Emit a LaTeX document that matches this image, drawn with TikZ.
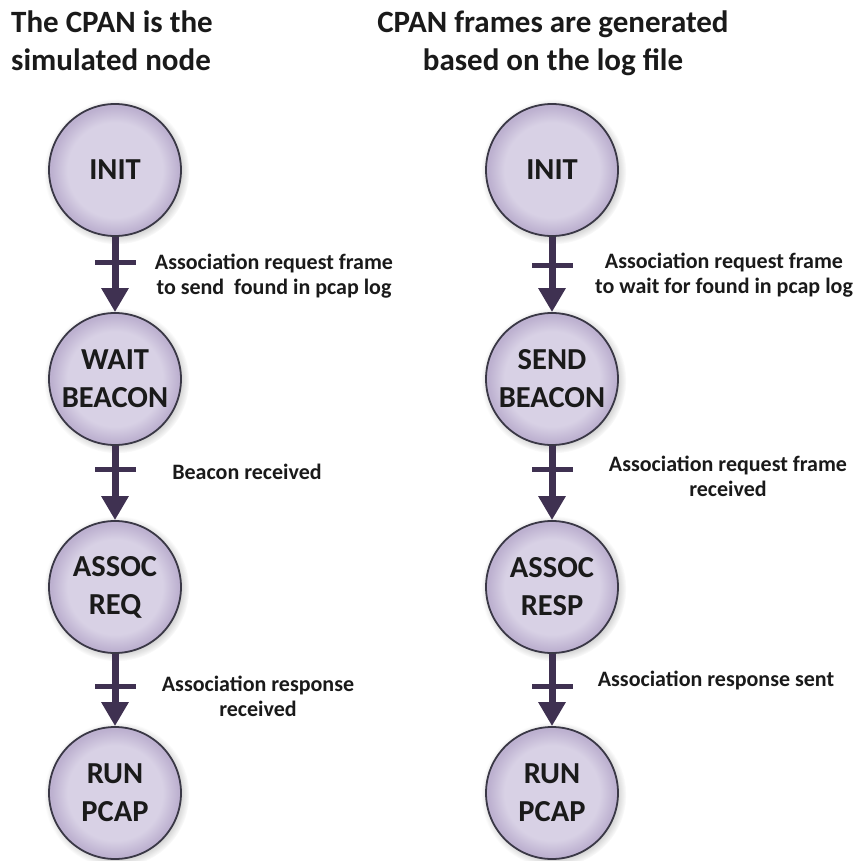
\documentclass[tikz,border=0pt]{standalone}
\usepackage{fontspec}
\setmainfont{Carlito}
\usetikzlibrary{shadows,arrows.meta}

\definecolor{stateFill}{HTML}{D8D1E5}
\definecolor{stateRim}{HTML}{BDB1D0}
\definecolor{stateLine}{HTML}{3A3846}
\definecolor{flow}{HTML}{3F3151}
\definecolor{ink}{HTML}{1A1A1A}

% flat lavender face with a slightly darker bevelled rim
\pgfdeclareradialshading{stateball}{\pgfpoint{0bp}{0bp}}{%
  color(0bp)=(stateFill); color(18bp)=(stateFill);
  color(24bp)=(stateRim); color(25bp)=(stateRim); color(50bp)=(stateRim)}

\begin{document}
\begin{tikzpicture}[x=1pt,y=-1pt,
  state/.style={circle, minimum size=132pt, inner sep=0pt,
    draw=stateLine, line width=1.8pt, shading=stateball,
    circular drop shadow={shadow xshift=1.5pt, shadow yshift=-1.5pt,
      opacity=0.3, fill=black!70},
    font=\fontsize{30.5}{38}\selectfont\bfseries, text=ink, align=center},
  flowline/.style={draw=flow, line width=7pt,
    -{Triangle[length=24pt, width=26pt]}},
  crossbar/.style={rectangle, fill=flow, minimum width=41pt,
    minimum height=5pt, inner sep=0pt},
  cond/.style={font=\fontsize{22}{25}\selectfont\bfseries, text=ink,
    align=center, inner sep=0pt},
  heading/.style={font=\fontsize{31}{38}\selectfont\bfseries, text=ink,
    inner sep=0pt}]

\useasboundingbox (0,0) rectangle (863,861);

% headings
\node[heading, align=left, anchor=north west] (hl) at (11,11)
  {The CPAN is the\\simulated node};
\node[heading, align=center, anchor=north] (hr) at (553,11)
  {CPAN frames are generated\\based on the log file};

% left column: the simulated CPAN
\node[state] (L1) at (115,170) {INIT};
\node[state] (L2) at (115,379) {WAIT\\BEACON};
\node[state] (L3) at (115,587) {ASSOC\\REQ};
\node[state] (L4) at (115,793) {RUN\\PCAP};

% right column: frames replayed from the log
\node[state] (R1) at (552,170) {INIT};
\node[state] (R2) at (552,379) {SEND\\BEACON};
\node[state] (R3) at (552,587) {ASSOC\\RESP};
\node[state] (R4) at (552,793) {RUN\\PCAP};

% transitions with their guard bars
\draw[flowline] (L1.south) -- node[crossbar, pos=0.34] (tl1) {} (L2.north);
\draw[flowline] (L2.south) -- node[crossbar, pos=0.32] (tl2) {} (L3.north);
\draw[flowline] (L3.south) -- node[crossbar, pos=0.45] (tl3) {} (L4.north);
\draw[flowline] (R1.south) -- node[crossbar, pos=0.38] (tr1) {} (R2.north);
\draw[flowline] (R2.south) -- node[crossbar, pos=0.32] (tr2) {} (R3.north);
\draw[flowline] (R3.south) -- node[crossbar, pos=0.45] (tr3) {} (R4.north);

% transition conditions
\node[cond] (cl1) at (274,276) {Association request frame\\to send\ \ found in pcap log};
\node[cond] (cl2) at (247,472) {Beacon received};
\node[cond] (cl3) at (258,696) {Association response\\received};
\node[cond] (cr1) at (724,275) {Association request frame\\to wait for found in pcap log};
\node[cond] (cr2) at (728,476) {Association request frame\\received};
\node[cond] (cr3) at (716,680) {Association response sent};
\end{tikzpicture}
\end{document}
